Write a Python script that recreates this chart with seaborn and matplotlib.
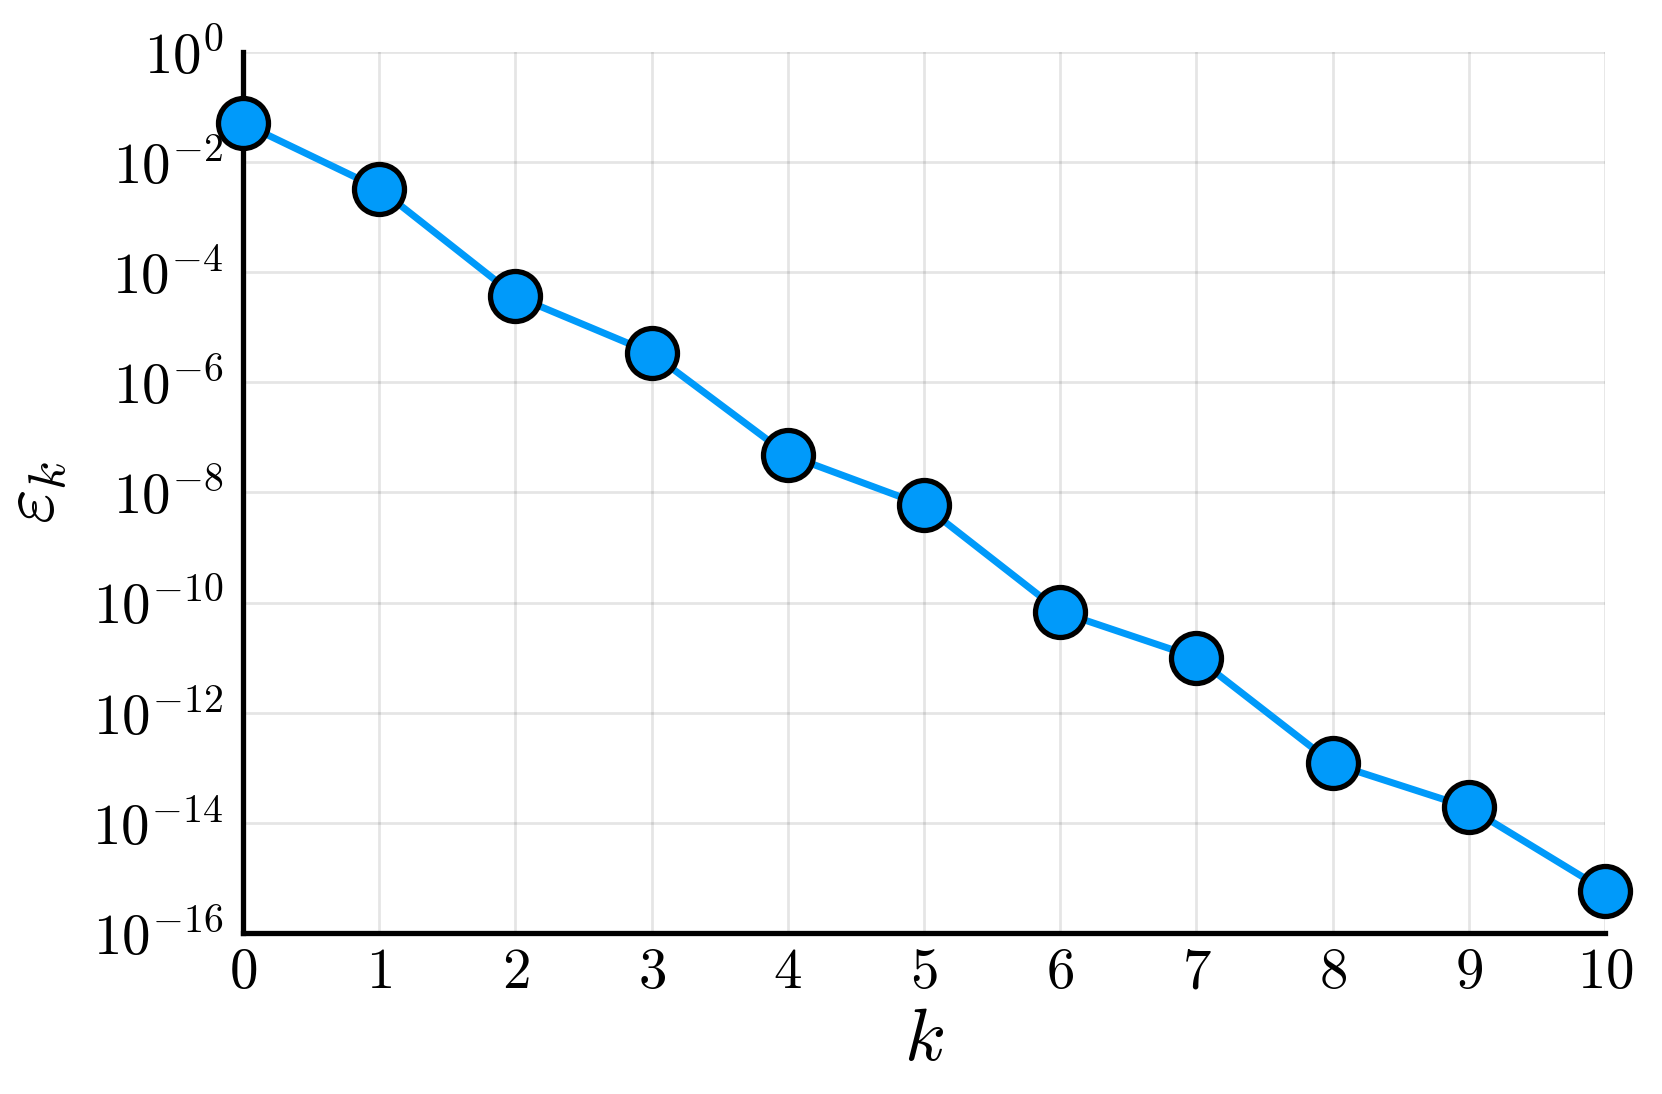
import numpy as np
import pandas as pd
import matplotlib
matplotlib.use("Agg")
import matplotlib.pyplot as plt
from matplotlib.ticker import FixedLocator, FuncFormatter, NullLocator
import seaborn as sns

# === Data ===
k_vals = [0, 1, 2, 3, 4, 5, 6, 7, 8, 9, 10]
eps_vals = [5.1e-2, 3.3e-3, 3.7e-5, 3.4e-6, 4.8e-8, 5.8e-9,
            6.8e-11, 1.0e-11, 1.2e-13, 1.9e-14, 5.9e-16]
y_tick_exps = [0, -2, -4, -6, -8, -10, -12, -14, -16]
x_ticks = [0, 1, 2, 3, 4, 5, 6, 7, 8, 9, 10]

df = pd.DataFrame({"k": k_vals, "eps": eps_vals})

# === Style ===
sns.set_style("white")
plt.rcParams["mathtext.fontset"] = "cm"
plt.rcParams["font.family"] = ["DejaVu Serif"]
plt.rcParams["text.color"] = "black"
plt.rcParams["axes.labelcolor"] = "black"
plt.rcParams["xtick.labelcolor"] = "black"
plt.rcParams["ytick.labelcolor"] = "black"

fig = plt.figure(figsize=(16.62, 10.94), dpi=100)
ax = fig.add_axes([0.1462, 0.1472, 0.8195, 0.8053])

sns.lineplot(data=df, x="k", y="eps", ax=ax, color="#009AFA", linewidth=5,
             marker="o", markersize=36, markerfacecolor="#009AFA",
             markeredgecolor="black", markeredgewidth=3.8, clip_on=False,
             zorder=5)

ax.set_yscale("log")
ax.set_xlim(0, 10)
ax.set_ylim(1e-16, 1e0)

ax.yaxis.set_major_locator(FixedLocator([10.0 ** e for e in y_tick_exps]))
ax.yaxis.set_minor_locator(NullLocator())
ax.yaxis.set_major_formatter(FuncFormatter(lambda v, p: r"$10^{%d}$" % round(np.log10(v))))
ax.xaxis.set_major_locator(FixedLocator(x_ticks))
ax.xaxis.set_major_formatter(FuncFormatter(lambda v, p: r"$%d$" % v))

ax.grid(True, color="black", alpha=0.1, linewidth=2)
ax.tick_params(axis="both", direction="in", length=13, width=1.2, color="#444444",
               labelsize=41, labelcolor="black")
ax.tick_params(axis="y", pad=14)
ax.tick_params(axis="x", pad=8)

for side in ["top", "right"]:
    ax.spines[side].set_visible(False)
for side in ["left", "bottom"]:
    ax.spines[side].set_linewidth(3.8)
    ax.spines[side].set_color("black")

ax.set_xlabel(r"$k$", fontsize=54, labelpad=2)
ax.set_ylabel(r"$\varepsilon_k$", fontsize=54, labelpad=16)

fig.savefig("out.png", dpi=100)
